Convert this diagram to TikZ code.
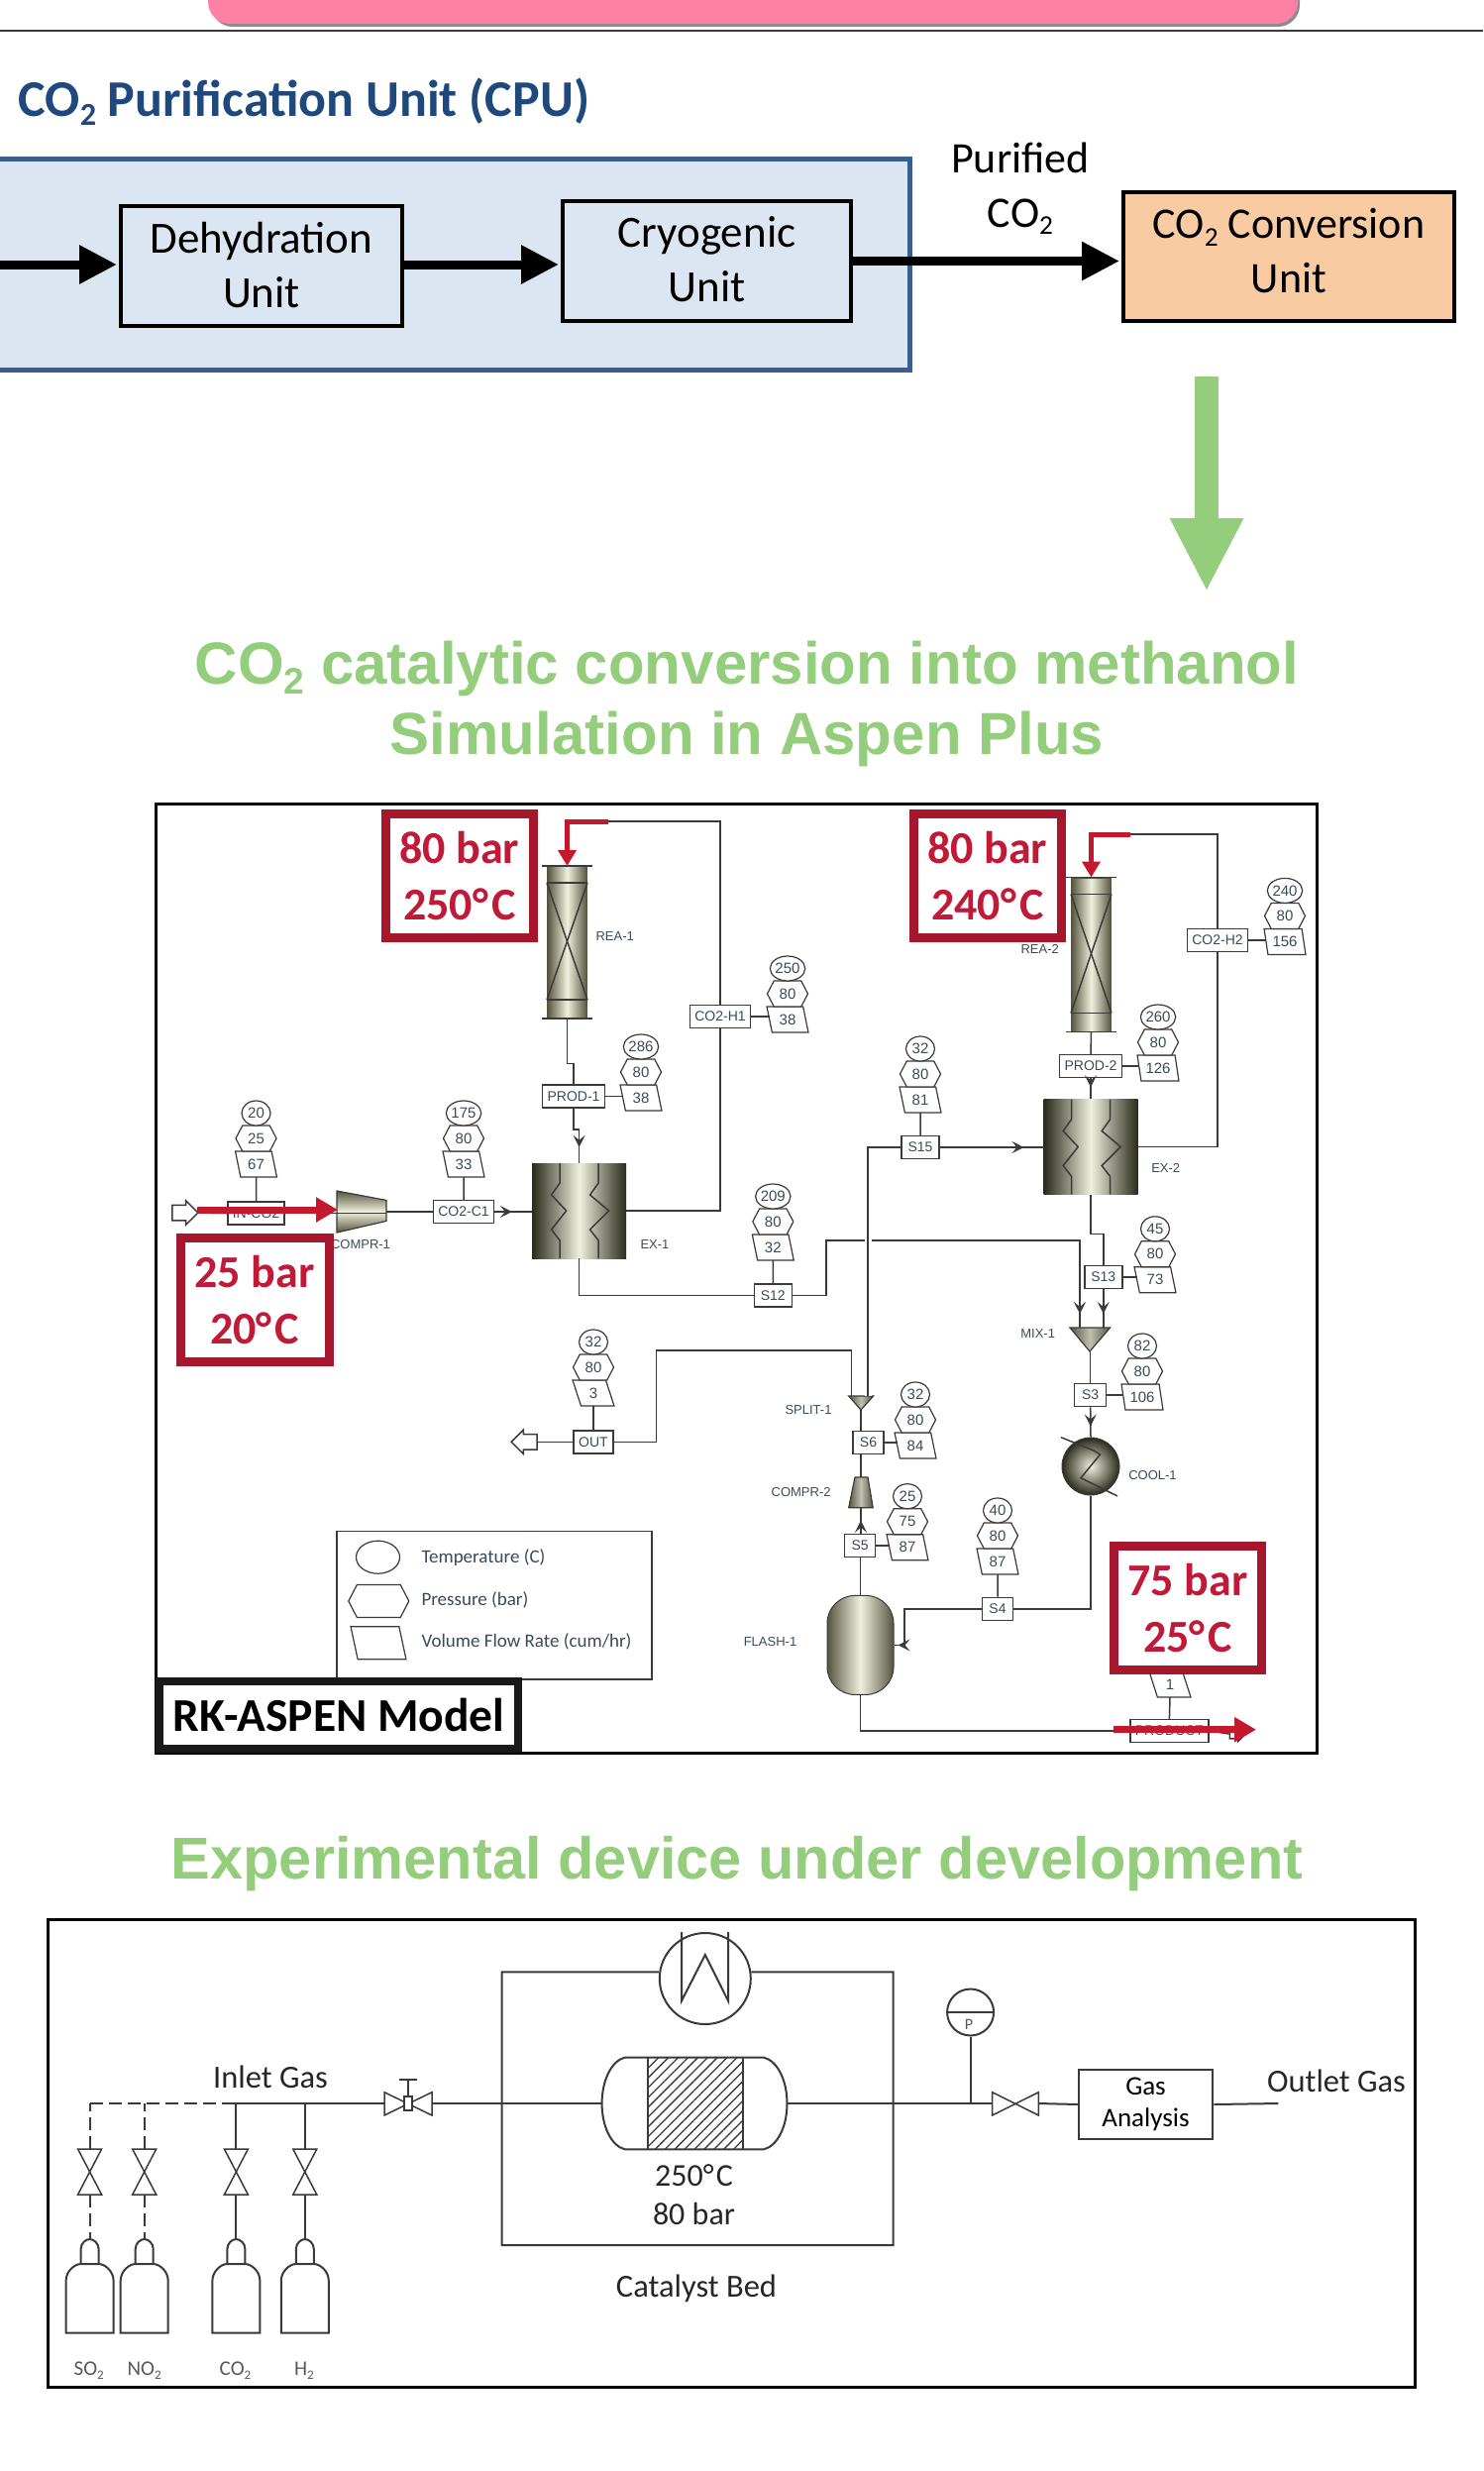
\documentclass[tikz,border=0pt]{standalone}
\usepackage{fontspec}
\setmainfont{Carlito}
\newfontfamily\arialfont{Liberation Sans}
\usetikzlibrary{positioning, shapes, arrows.meta, decorations.markings, patterns.meta}
\definecolor{cpublue}{HTML}{DCE6F2}
\definecolor{cpuedge}{HTML}{3A5F8F}
\definecolor{navytitle}{HTML}{1F497D}
\definecolor{convorange}{HTML}{F9CBA3}
\definecolor{titlegreen}{HTML}{94CD7C}
\definecolor{wine}{HTML}{A6172E}
\definecolor{crimson}{HTML}{C01A38}
\definecolor{arrowred}{HTML}{C4182C}
\definecolor{tagtext}{HTML}{3C4A58}
\definecolor{lineink}{HTML}{3A3A3A}
\definecolor{steeldark}{HTML}{55553F}
\definecolor{steeldeep}{HTML}{2A2A1C}
\definecolor{steellight}{HTML}{F0F0DE}
\definecolor{bannerpink}{HTML}{FF80A5}
\newcommand{\subtwo}{\raisebox{-0.17em}{\scalebox{0.62}{2}}}
\newcommand{\cotwo}{CO\subtwo}
\newcommand{\degc}{°\kern0.07em C}
% reactor column details
\newcommand{\reactor}[1]{
  \draw [stream] ([xshift=-5pt]#1.north west) -- ([xshift=5pt]#1.north east);
  \draw [stream] ([xshift=-5pt]#1.south west) -- ([xshift=5pt]#1.south east);
  \draw [stream] ([yshift=-17pt]#1.north west) -- ([yshift=-17pt]#1.north east);
  \draw [stream] ([yshift=19pt]#1.south west) -- ([yshift=19pt]#1.south east);
  \draw [stream] ([yshift=-17pt]#1.north west) -- ([yshift=19pt]#1.south east);
  \draw [stream] ([yshift=-17pt]#1.north east) -- ([yshift=19pt]#1.south west);
}
% exchanger tubes
\newcommand{\zigzag}[1]{
  \begin{scope}[shift={(#1.center)}]
    \draw [stream] (-19.5,-48) -- (-19.5,-28) -- (-28,-16) -- (-13,0) -- (-28,19) -- (-19.5,30) -- (-19.5,48);
    \draw [stream] (19.5,-48) -- (19.5,-28) -- (11,-16) -- (30,0) -- (11,19) -- (19.5,30) -- (19.5,48);
  \end{scope}
}
% gas bottle with its valve
\newcommand{\bottle}[2]{
  \coordinate (#1top) at (#2,2260);
  \coordinate (#1vb) at (#2,2215);
  \coordinate (#1vt) at (#2,2169);
  \draw [pipe] (#2-24,2354.5) -- (#2-24,2302) .. controls (#2-24,2292) and (#2-15,2285) .. (#2-9,2285)
    -- (#2+9,2285) .. controls (#2+15,2285) and (#2+24,2292) .. (#2+24,2302) -- (#2+24,2354.5) -- cycle;
  \draw [pipe] (#2-9,2285) -- (#2-9,2270) .. controls (#2-9,2264) and (#2-4,2260) .. (#2,2260)
    .. controls (#2+4,2260) and (#2+9,2264) .. (#2+9,2270) -- (#2+9,2285);
  \draw [pipe, thin valve] (#2-12,2169) -- (#2+12,2169) -- (#2-12,2215) -- (#2+12,2215) -- cycle;
}
\begin{document}
\begin{tikzpicture}[x=1pt, y=-1pt, auto, text centered,
  thin valve/.style = {line width=1.5pt},
  block/.style = {rectangle, draw=black, line width=4pt, inner sep=0pt, align=center,
                  font=\fontsize{45}{55}\selectfont},
  thickarrow/.style = {line width=9pt, -{Triangle[length=38pt,width=37pt]}},
  greentitle/.style = {text=titlegreen, font=\arialfont\bfseries\fontsize{60}{71}\selectfont, align=center},
  redbox/.style = {rectangle, draw=wine, line width=9pt, fill=white, text=crimson, inner sep=0pt, align=center,
                   font=\bfseries\fontsize{46}{57}\selectfont},
  redarrow/.style = {draw=arrowred, line width=5pt, -{Triangle[length=16pt,width=18pt]}},
  stream/.style = {draw=lineink, line width=1.5pt},
  headed/.style = {postaction={decorate}, decoration={markings,
                   mark=at position #1 with {\arrow[lineink]{Stealth[length=12pt,width=12pt,inset=5pt]}}}},
  headed/.default = -14pt,
  streambox/.style = {rectangle, draw=lineink, line width=1.5pt, fill=white, text=tagtext, inner xsep=5pt, inner ysep=0pt,
                      minimum width=38pt, minimum height=23pt, font=\arialfont\fontsize{14}{16}\selectfont},
  temp/.style = {ellipse, draw=lineink, line width=1.2pt, fill=white, text=tagtext, inner sep=0pt, outer sep=0pt,
                 minimum width=29pt, minimum height=25pt, font=\arialfont\fontsize{15}{16}\selectfont},
  press/.style = {signal, signal to=east and west, signal pointer angle=125, draw=lineink, line width=1.2pt, fill=white,
                  text=tagtext, inner sep=0pt, outer sep=0pt, minimum width=41pt, minimum height=26pt,
                  font=\arialfont\fontsize{15}{16}\selectfont},
  flow/.style = {trapezium, trapezium left angle=105, trapezium right angle=75, trapezium stretches=true, draw=lineink,
                 line width=1.2pt, fill=white, text=tagtext, inner sep=0pt, outer sep=0pt, minimum width=42pt,
                 minimum height=26pt, font=\arialfont\fontsize{15}{16}\selectfont},
  unitlabel/.style = {text=tagtext, font=\arialfont\fontsize{13}{15}\selectfont},
  legendtext/.style = {text=tagtext, anchor=west, font=\fontsize{19}{22}\selectfont},
  column/.style = {rectangle, draw=steeldark, line width=1pt, left color=steeldark, right color=steeldark, middle color=steellight,
                   minimum width=40pt, inner sep=0pt},
  exchanger/.style = {rectangle, left color=steeldeep, right color=steeldeep, middle color=steellight,
                      minimum width=95pt, minimum height=96pt, inner sep=0pt},
  steel/.style = {draw=lineink, line width=1.2pt, left color=steeldark, right color=steeldark, middle color=steellight!80!black},
  steelh/.style = {draw=lineink, line width=1.2pt, top color=steeldark, bottom color=steeldark, middle color=steellight},
  vent/.style = {single arrow, draw=lineink, line width=1.5pt, fill=white, single arrow head extend=4.5pt, inner sep=7pt,
                 minimum height=26pt},
  pipe/.style = {draw=lineink, line width=2pt},
  devtext/.style = {text=black!85, font=\fontsize{32.5}{39}\selectfont, align=center},
  frame/.style = {rectangle, draw=black, line width=3pt}
  ]
\useasboundingbox (0,0) rectangle (1497,2494);

% banner at the top
\fill [black!45, rounded corners=22pt] (213,-40) rectangle (1312,27);
\node (banner) [rectangle, fill=bannerpink, rounded corners=22pt, minimum width=1100pt, minimum height=64pt] at (760,-8) {};
\draw [line width=2.5pt, lineink] (0,31) -- (1497,31);

% purification unit
\node (cputitle) [anchor=west, text=navytitle, font=\bfseries\fontsize{52}{58}\selectfont] at (15,103) {\cotwo{} Purification Unit (CPU)};
\node (cpu) [rectangle, draw=cpuedge, line width=5pt, fill=cpublue, minimum width=928pt, minimum height=213pt] at (454,266.5) {};
\node (dehyd) [block, fill=cpublue, minimum width=284pt, minimum height=121pt] at (264,268) {Dehydration\\Unit};
\node (cryo) [block, fill=cpublue, minimum width=291pt, minimum height=121pt, right=158pt of dehyd, yshift=4.5pt] {Cryogenic\\Unit\rule[-4pt]{0pt}{4pt}};
\node (conv) [block, fill=convorange, minimum width=334pt, minimum height=130pt, right=271pt of cryo, yshift=4.5pt,
              font=\fontsize{44}{55}\selectfont] {\cotwo{} Conversion\\Unit\rule[-12pt]{0pt}{12pt}};
\node (purified) [align=center, font=\fontsize{44}{55}\selectfont] at (1030,190) {Purified\\\cotwo};
\coordinate (cpuin) at (0,267);
\draw [thickarrow, shorten >=2pt] (cpuin) -- (cpuin -| dehyd.west);
\draw [thickarrow, shorten >=2pt] (cpuin -| dehyd.east) -- (cpuin -| cryo.west);
\draw [thickarrow, shorten >=2pt] (cryo.east) -- (cryo.east -| conv.west);

\coordinate (downstart) at (1218,380);
\coordinate (downend) at (1218,597);
\draw [titlegreen, line width=24pt, -{Triangle[length=74pt,width=69pt]}] (downstart) -- (downend);

\node (simtitle) [greentitle] at (754,710) {\cotwo{} catalytic conversion into methanol\\Simulation in Aspen Plus};
\node (devtitle) [greentitle, font=\arialfont\bfseries\fontsize{59.6}{71}\selectfont] at (744,1881) {Experimental device under development};

% aspen flowsheet, unit operations
\node (aspen) [frame, minimum width=1172pt, minimum height=958pt] at (743,1290) {};
\node (rea1) [column, minimum height=153pt] at (572.5,951) {};
\node (rea2) [column, minimum height=155pt] at (1101.5,963.5) {};
\reactor{rea1}
\reactor{rea2}
\node (ex1) [exchanger] at (584.6,1222) {};
\node (ex2) [exchanger] at (1101.2,1157.5) {};
\zigzag{ex1}
\zigzag{ex2}
\node (flash) [rectangle, rounded corners=28pt, draw=lineink, line width=1pt, left color=steeldark, right color=steeldark,
               middle color=steellight, minimum width=67pt, minimum height=100pt, inner sep=0pt] at (868.5,1660.4) {};
\node (cool) [circle, draw=lineink, line width=1pt, inner color=steellight, outer color=steeldeep, minimum size=58pt, inner sep=0pt] at (1101,1480) {};
\coordinate (coolA) at (1071,1450.7);
\coordinate (coolB) at (1128,1510);
\draw [stream] (coolA) -- (1104,1464) -- (1110.5,1468) -- (1091,1491.7) -- (coolB);
\shadedraw [steelh] (340,1202) -- (390,1211.4) -- (390,1232.4) -- (340,1244) -- cycle;
\coordinate (compr1out) at (390,1223);
\shadedraw [steel] (863,1491) -- (876,1491) -- (881.2,1521.7) -- (856.7,1521.7) -- cycle;
\coordinate (compr2t) at (869,1491);
\coordinate (compr2b) at (869,1521.7);
\shadedraw [steel] (1080,1340) -- (1120.6,1340) -- (1100,1364) -- cycle;
\coordinate (mixL) at (1090,1340);
\coordinate (mixR) at (1113.8,1340);
\coordinate (mixB) at (1100.7,1364);
\shadedraw [steel] (856.7,1409) -- (881.6,1409) -- (869,1423) -- cycle;
\coordinate (splitL) at (859.6,1409);
\coordinate (splitR) at (876,1409);
\coordinate (splitB) at (869,1423);
\node (invent) [vent] at (183,1224) {};
\node (outvent) [vent, rotate=180] at (533,1455.3) {};
\node (prodvent) [vent, minimum height=16pt, inner sep=4pt, single arrow head extend=3pt] at (1247,1750) {};

\node (rea1lab) [unitlabel] at (620.7,945.4) {REA-1};
\node (rea2lab) [unitlabel] at (1049.7,958) {REA-2};
\node (ex1lab) [unitlabel] at (661,1256) {EX-1};
\node (ex2lab) [unitlabel] at (1176.7,1179) {EX-2};
\node (compr1lab) [unitlabel] at (364,1256) {COMPR-1};
\node (compr2lab) [unitlabel] at (808.6,1505.7) {COMPR-2};
\node (mixlab) [unitlabel] at (1047.7,1346) {MIX-1};
\node (splitlab) [unitlabel] at (816,1423) {SPLIT-1};
\node (coollab) [unitlabel] at (1163.5,1489) {COOL-1};
\node (flashlab) [unitlabel] at (777.5,1656.7) {FLASH-1};

% streams and their tags
\node (inco2) [streambox] at (258.5,1224.5) {IN-CO2};
\node (co2c1) [streambox] at (468,1223) {CO2-C1};
\node (prod1) [streambox] at (579,1106.5) {PROD-1};
\node (co2h1) [streambox] at (727,1026) {CO2-H1};
\node (s12) [streambox] at (780.3,1307.6) {S12};
\node (s15) [streambox] at (929,1158) {S15};
\node (prod2) [streambox] at (1101,1076) {PROD-2};
\node (co2h2) [streambox] at (1229,949) {CO2-H2};
\node (s13) [streambox] at (1113.8,1289) {S13};
\node (s3) [streambox, minimum width=32pt] at (1100.7,1408) {S3};
\node (s6) [streambox, minimum width=31pt] at (876.5,1456) {S6};
\node (s5) [streambox, minimum width=31pt] at (868.2,1560) {S5};
\node (s4) [streambox, minimum width=31pt] at (1007,1623.8) {S4};
\node (out) [streambox] at (599,1455.3) {OUT};
\node (prod) [streambox, minimum width=75pt] at (1180.4,1747) {PRODUCT};

\node (f1) [flow] at (258.5,1175) {67}; \node (p1) [press, above=0pt of f1] {25}; \node (t1) [temp, above=0pt of p1] {20};
\node (f2) [flow] at (468,1175) {33}; \node (p2) [press, above=0pt of f2] {80}; \node (t2) [temp, above=0pt of p2] {175};
\node (f3) [flow] at (647,1108) {38}; \node (p3) [press, above=0pt of f3] {80}; \node (t3) [temp, above=0pt of p3] {286};
\node (f4) [flow] at (795,1029) {38}; \node (p4) [press, above=0pt of f4] {80}; \node (t4) [temp, above=0pt of p4] {250};
\node (f5) [flow] at (780.3,1259) {32}; \node (p5) [press, above=0pt of f5] {80}; \node (t5) [temp, above=0pt of p5] {209};
\node (f6) [flow] at (929,1110) {81}; \node (p6) [press, above=0pt of f6] {80}; \node (t6) [temp, above=0pt of p6] {32};
\node (f7) [flow] at (1169,1078) {126}; \node (p7) [press, above=0pt of f7] {80}; \node (t7) [temp, above=0pt of p7] {260};
\node (f8) [flow] at (1297,950.4) {156}; \node (p8) [press, above=0pt of f8] {80}; \node (t8) [temp, above=0pt of p8] {240};
\node (f9) [flow] at (1166,1291.8) {73}; \node (p9) [press, above=0pt of f9] {80}; \node (t9) [temp, above=0pt of p9] {45};
\node (f10) [flow] at (1153,1410) {106}; \node (p10) [press, above=0pt of f10] {80}; \node (t10) [temp, above=0pt of p10] {82};
\node (f11) [flow] at (924,1459) {84}; \node (p11) [press, above=0pt of f11] {80}; \node (t11) [temp, above=0pt of p11] {32};
\node (f12) [flow] at (916,1561.7) {87}; \node (p12) [press, above=0pt of f12] {75}; \node (t12) [temp, above=0pt of p12] {25};
\node (f13) [flow] at (1007,1576) {87}; \node (p13) [press, above=0pt of f13] {80}; \node (t13) [temp, above=0pt of p13] {40};
\node (f14) [flow] at (599,1406) {3}; \node (p14) [press, above=0pt of f14] {80}; \node (t14) [temp, above=0pt of p14] {32};
\node (f15) [flow] at (1181,1700) {1};

% connections
\draw [stream] (invent.tip) -- (inco2.west);
\draw [stream] (inco2.east) -- (inco2.east -| compr1out);
\draw [stream] (compr1out) -- (co2c1.west);
\draw [stream, headed=-20pt] (co2c1.east) -- (co2c1.east -| ex1.west);
\draw [stream] (rea1.south) -- +(0,45.6) -| (prod1.north);
\draw [stream, headed=-16pt] (prod1.south) -- +(0,21) -| (ex1.north);
\draw [stream] (ex1.east) -| (co2h1.south);
\coordinate (rea1feed) at (614,829);
\coordinate (rea2feed) at (1141,842);
\draw [stream] (co2h1.north) |- (rea1feed);
\draw [stream] (ex1.south) |- (s12.west);
\draw [stream, headed] (s12.east) -- +(34,0) -- +(34,-55.6) -| (mixL);
\draw [stream, preaction={draw=white, line width=7pt}] (s15.west) -| (splitR);
\draw [stream, headed=-20pt] (s15.east) -- (s15.east -| ex2.west);
\draw [stream] (rea2.south) -- (prod2.north);
\draw [stream, headed=-12pt] (prod2.south) -- (prod2.south |- ex2.north);
\draw [stream] (ex2.east) -| (co2h2.south);
\draw [stream] (co2h2.north) |- (rea2feed);
\draw [stream] (ex2.south) -- +(0,40) -| (s13.north);
\draw [stream, headed] (s13.south) -- (mixR);
\draw [stream] (mixB) -- (s3.north);
\draw [stream, headed=-11pt] (s3.south) -- (cool.north);
\draw [stream] (cool.south) |- (s4.east);
\draw [stream, headed=-4pt] (s4.west) -- +(-78,0) |- (flash.east);
\draw [stream] (flash.north) -- (flash.north |- s5.south);
\draw [stream, headed=-13pt] (compr2b |- s5.north) -- (compr2b);
\draw [stream] (compr2t) -- (compr2t |- s6.south);
\draw [stream] (splitB |- s6.north) -- (splitB);
\draw [stream] (out.east) -- +(43.2,0) -- +(43.2,-92.3) -| (splitL);
\draw [stream] (out.west) -- (outvent.tail);
\draw [stream] (flash.south) |- (prod.west);
\draw [stream] (prod.east) -- (prodvent.tail);

\draw [stream] (f1.south) -- (inco2.north);
\draw [stream] (f2.south) -- (co2c1.north);
\draw [stream] (prod1.east) -- (prod1.east -| f3.west);
\draw [stream] (co2h1.east) -- (co2h1.east -| f4.west);
\draw [stream] (f5.south) -- (s12.north);
\draw [stream] (f6.south) -- (s15.north);
\draw [stream] (prod2.east) -- (prod2.east -| f7.west);
\draw [stream] (co2h2.east) -- (co2h2.east -| f8.west);
\draw [stream] (s13.east) -- (s13.east -| f9.west);
\draw [stream] (s3.east) -- (s3.east -| f10.west);
\draw [stream] (s6.east) -- (s6.east -| f11.west);
\draw [stream] (s5.east) -- (s5.east -| f12.west);
\draw [stream] (f13.south) -- (s4.north);
\draw [stream] (f14.south) -- (out.north);
\draw [stream] (f15.south) -- (prod.north);

% legend
\node (legend) [rectangle, draw=lineink, line width=1.5pt, fill=white, minimum width=317.6pt, minimum height=149.3pt] at (499,1620.3) {};
\node (legtemp) [temp, minimum width=44pt, minimum height=33pt] at (381.5,1571.7) {};
\node (legpress) [press, minimum width=61pt, minimum height=33pt] at (382.3,1616) {\phantom{00}};
\node (legflow) [flow, minimum width=56pt, minimum height=33pt] at (382,1658.3) {\phantom{00}};
\node (legtemptext) [legendtext] at (422,1571.7) {Temperature (C)};
\node (legpresstext) [legendtext] at (422,1615) {Pressure (bar)};
\node (legflowtext) [legendtext] at (422,1657.3) {Volume Flow Rate (cum/hr)};

% operating conditions on top
\node (rkaspen) [rectangle, draw=black!90, line width=8pt, fill=white, minimum width=362pt, minimum height=68pt,
                 font=\bfseries\fontsize{47.5}{54}\selectfont] at (342,1731) {RK-ASPEN Model};
\node (cond1) [redbox, minimum width=149.6pt, minimum height=125pt] at (463.8,884) {80 bar\\250\degc};
\node (cond2) [redbox, minimum width=149.5pt, minimum height=125pt] at (996.8,884) {80 bar\\240\degc};
\node (cond3) [redbox, minimum width=150pt, minimum height=125pt] at (257,1311.6) {25 bar\\20\degc};
\node (cond4) [redbox, minimum width=148.4pt, minimum height=125.7pt] at (1199,1623) {75 bar\\25\degc};
\draw [redarrow, line width=7pt, -{Triangle[length=22pt,width=24pt]}] (199,1221) -- (341,1221);
\draw [redarrow, line width=7pt, -{Triangle[length=22pt,width=24pt]}] (1124,1745.7) -- (1268,1745.7);
\draw [redarrow] (rea1feed) -| (rea1.north);
\draw [redarrow] (rea2feed) -| (rea2.north);

% experimental device
\node (device) [frame, minimum width=1379.6pt, minimum height=472.6pt] at (738.2,2173.3) {};
\bottle{so2}{90.6}
\bottle{no2}{145.7}
\bottle{co2}{238.4}
\bottle{h2}{307.8}
\node (so2lab) [text=black!65, font=\fontsize{21}{24}\selectfont] at (89.7,2392.5) {SO\subtwo};
\node (no2lab) [text=black!65, font=\fontsize{21}{24}\selectfont] at (145.7,2392.5) {NO\subtwo};
\node (co2lab) [text=black!65, font=\fontsize{21}{24}\selectfont] at (237.5,2392.5) {\cotwo};
\node (h2lab) [text=black!65, font=\fontsize{21}{24}\selectfont] at (306.9,2392.5) {H\subtwo};
\coordinate (headerW) at (90.6,2123);
\coordinate (headerM) at (234,2123);
\draw [pipe, dashed, dash pattern=on 13pt off 6pt] (headerW) -- (headerM);
\draw [pipe, dashed, dash pattern=on 13pt off 6pt] (so2vt) -- (so2vt |- headerW);
\draw [pipe, dashed, dash pattern=on 13pt off 6pt] (no2vt) -- (no2vt |- headerW);
\draw [pipe, dashed, dash pattern=on 13pt off 6pt] (so2vb) -- (so2top);
\draw [pipe, dashed, dash pattern=on 13pt off 6pt] (no2vb) -- (no2top);
\draw [pipe] (co2vt) -- (co2vt |- headerW);
\draw [pipe] (h2vt) -- (h2vt |- headerW);
\draw [pipe] (co2vb) -- (co2top);
\draw [pipe] (h2vb) -- (h2top);
\node (inletgas) [devtext] at (273,2096.5) {Inlet Gas};

\coordinate (inletW) at (388,2123);
\coordinate (inletE) at (436,2123);
\draw [pipe, thin valve] (388,2111.7) -- (388,2135) -- (436,2111.7) -- (436,2135) -- cycle;
\draw [pipe, thin valve] (412,2123) -- (412,2099);
\draw [pipe, thin valve] (403,2099) -- (421,2099);
\node (actuator) [rectangle, draw=lineink, line width=1.5pt, fill=white, minimum width=8pt, minimum height=14pt, inner sep=0pt] at (412,2123) {};
\draw [pipe] (headerM) -- (inletW);

\node (heater) [circle, draw=lineink, line width=2pt, minimum size=92pt, inner sep=0pt] at (711.8,1997) {};
\draw [pipe] (688,1950) -- (688,2019.5) -- (711.8,1973) -- (735,2019.5) -- (735,1950);
\coordinate (loopTL) at (506.6,1990.3);
\coordinate (loopBL) at (506.6,2266);
\coordinate (loopBR) at (901.5,2266);
\coordinate (loopTR) at (901.5,1990.3);
\draw [pipe] (heater.172) -- (loopTL) -- (loopBL) -- (loopBR) -- (loopTR) -- (heater.8);

\coordinate (bedW) at (607.6,2123);
\coordinate (bedE) at (794.5,2123);
\fill [pattern={Lines[angle=45,distance=7pt,line width=1.3pt]}, pattern color=lineink] (654.4,2076.5) rectangle (750,2169.4);
\draw [pipe] (631,2076.5) .. controls (617,2080) and (607.6,2100) .. (bedW) .. controls (607.6,2146) and (617,2166) .. (631,2169.4)
  -- (770.7,2169.4) .. controls (785,2166) and (794.5,2146) .. (bedE) .. controls (794.5,2100) and (785,2080) .. (770.7,2076.5) -- cycle;
\draw [pipe] (654.4,2076.5) -- (654.4,2169.4);
\draw [pipe] (750,2076.5) -- (750,2169.4);
\draw [pipe] (inletE) -- (bedW);
\node (bedcond) [devtext, font=\fontsize{32}{39}\selectfont] at (700.5,2215) {250\degc\\80 bar};
\node (bedname) [devtext] at (703,2310) {Catalyst Bed};

\node (gauge) [circle, draw=lineink, line width=2pt, minimum size=47pt, inner sep=0pt] at (979.6,2031) {};
\draw [pipe, line width=1.5pt] (gauge.west) -- (gauge.east);
\node (gaugeP) [text=black!65, font=\fontsize{16}{18}\selectfont] at (978,2043) {P};
\coordinate (outW) at (1001.6,2123);
\coordinate (outE) at (1048.4,2123);
\draw [pipe, thin valve] (1001.6,2111.7) -- (1001.6,2135) -- (1048.4,2111.7) -- (1048.4,2135) -- cycle;
\draw [pipe] (bedE) -- (outW);
\draw [pipe] (gauge.south) -- (gauge.south |- outW);
\node (gasbox) [rectangle, draw=lineink, line width=2pt, minimum width=135.5pt, minimum height=70pt, inner sep=0pt, align=center,
                font=\fontsize{27}{32.5}\selectfont] at (1156.5,2124) {Gas\\Analysis};
\draw [pipe] (outE) -- (gasbox.west);
\coordinate (outletend) at (1290.4,2123);
\draw [pipe] (gasbox.east) -- (outletend);
\node (outletgas) [devtext] at (1349,2100) {Outlet Gas};
\end{tikzpicture}
\end{document}
